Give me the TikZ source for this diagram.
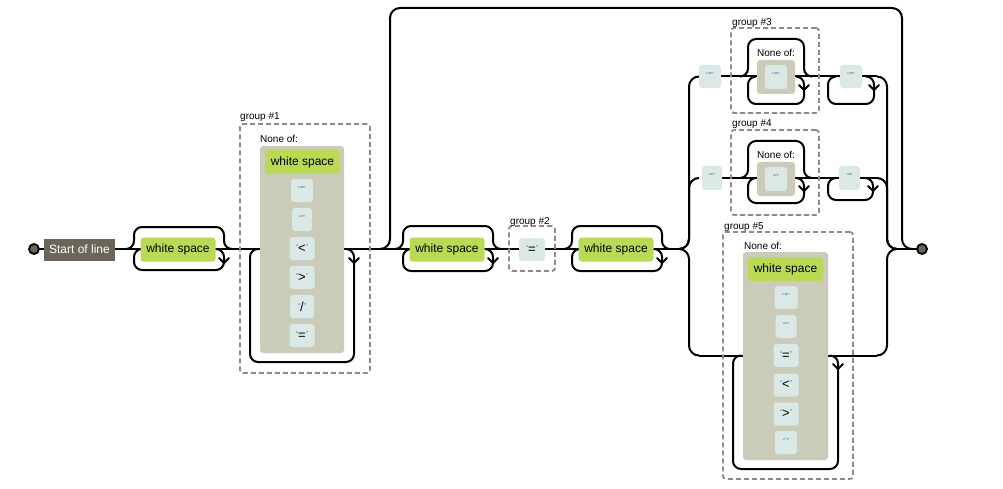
\documentclass[tikz,border=0pt]{standalone}
\usepackage{fontspec}
\setmainfont{Liberation Sans}
\newfontfamily\rawfont{Liberation Sans}[Ligatures=TeXOff]
\usetikzlibrary{backgrounds}
\definecolor{anchorc}{HTML}{6B6659}
\definecolor{escc}{HTML}{BADA55}
\definecolor{litc}{HTML}{DAE9E5}
\definecolor{setc}{HTML}{CBCBBA}
\definecolor{grpc}{HTML}{908C83}
\definecolor{quotec}{HTML}{5A6E96}
\newcommand\qmark[1]{{\color{quotec}\fontsize{7}{7}\selectfont\raisebox{3pt}{#1}}}
\newcommand\litbig[1]{\qmark{“}{\rawfont\fontsize{13}{13}\selectfont #1}\qmark{”}}
\newcommand\litsmall[1]{\qmark{“}\raisebox{3pt}{\color{quotec!70!black}\rawfont\fontsize{7}{7}\selectfont #1}\qmark{”}}
\newcommand\chev[2]{\draw[rail,line cap=round] (#1-5,#2-5) -- (#1,#2) -- (#1+5,#2-5);}
% skip above + loop below: xl, xr, y, top, bottom, arrow y
\newcommand\skiploop[6]{%
  \draw[rail,rounded corners=8pt] (#1-8,#3) -- (#1,#3) -- (#1,#4) -- (#2,#4) -- (#2,#3) -- (#2+8,#3);
  \draw[rail,rounded corners=8pt] (#2-8,#3) -- (#2,#3) -- (#2,#5) -- (#1,#5) -- (#1,#3) -- (#1+8,#3);
  \chev{#2}{#6}}
% loop below only: xl, xr, y, bottom, arrow y
\newcommand\loopback[5]{%
  \draw[rail,rounded corners=8pt] (#2-8,#3) -- (#2,#3) -- (#2,#4) -- (#1,#4) -- (#1,#3) -- (#1+8,#3);
  \chev{#2}{#5}}
\tikzset{
  rail/.style={line width=2pt,line join=round},
  anchorbox/.style={fill=anchorc,text=white,font=\fontsize{12}{12}\selectfont,inner sep=0pt,minimum width=71pt,minimum height=22pt},
  escbox/.style={fill=escc,rounded corners=3pt,font=\fontsize{12}{12}\selectfont,inner sep=0pt,minimum width=75pt,minimum height=24pt},
  litbox/.style={fill=litc,rounded corners=3pt,inner sep=0pt,minimum height=23pt},
  setbox/.style={fill=setc,rounded corners=3pt,inner sep=0pt},
  grpbox/.style={draw=grpc,line width=1.8pt,dash pattern=on 5pt off 3pt,rounded corners=3pt,inner sep=0pt},
  lbl/.style={font=\fontsize{10}{10}\selectfont,inner sep=0pt,anchor=base west},
  endpt/.style={circle,fill=anchorc,draw=black,line width=1.8pt,minimum size=10pt,inner sep=0pt},
}
\begin{document}
\begin{tikzpicture}[x=1pt,y=-1pt]
\useasboundingbox (0,0) rectangle (1003,489);

% ---------- nodes ----------
\node[endpt] (s) at (34,249) {};
\node[anchorbox] (sol) at (79.5,249.5) {Start of line};
\node[escbox] (ws1) at (178,249.5) {white space};

% group 1
\node[grpbox,minimum width=130pt,minimum height=249pt] (g1) at (305,248.5) {};
\node[lbl] (g1l) at (240,120) {group \#1};
\node[lbl] (g1n) at (260,143) {None of:};
\node[setbox,minimum width=84pt,minimum height=207pt] (cs1) at (302,249.5) {};
\node[escbox] (g1ws) at (302.5,162) {white space};
\node[litbox,minimum width=22pt] (g1a) at (302,190.5) {\litsmall{"}};
\node[litbox,minimum width=20pt] (g1b) at (302,219.5) {\litsmall{'}};
\node[litbox,minimum width=25pt] (g1c) at (302,248.5) {\litbig{<}};
\node[litbox,minimum width=25pt] (g1d) at (302,277.5) {\litbig{>}};
\node[litbox,minimum width=24pt] (g1e) at (302,306.5) {\litbig{/}};
\node[litbox,minimum width=25pt] (g1f) at (302,335.5) {\litbig{=}};

\node[escbox] (ws2) at (447,249.5) {white space};

% group 2
\node[grpbox,minimum width=46pt,minimum height=45pt] (g2) at (532,248.5) {};
\node[lbl] (g2l) at (510,224) {group \#2};
\node[litbox,minimum width=26pt] (g2a) at (532,249.5) {\litbig{=}};

\node[escbox] (ws3) at (616,249.5) {white space};

% row 1 / group 3
\node[litbox,minimum width=22pt] (r1a) at (710,76.5) {\litsmall{"}};
\node[grpbox,minimum width=88pt,minimum height=85pt] (g3) at (775,70.5) {};
\node[lbl] (g3l) at (732,26) {group \#3};
\node[lbl] (g3n) at (757,57) {None of:};
\node[setbox,minimum width=38pt,minimum height=34pt] (cs3) at (776,77) {};
\node[litbox,minimum width=22pt,minimum height=24pt] (g3a) at (776,77) {\litsmall{"}};
\node[litbox,minimum width=22pt] (r1b) at (851,76.5) {\litsmall{"}};

% row 2 / group 4
\node[litbox,minimum width=20pt,minimum height=24pt] (r2a) at (712,178) {\litsmall{'}};
\node[grpbox,minimum width=88pt,minimum height=85pt] (g4) at (775,172.5) {};
\node[lbl] (g4l) at (732,127) {group \#4};
\node[lbl] (g4n) at (757,159) {None of:};
\node[setbox,minimum width=38pt,minimum height=34pt] (cs4) at (776,179) {};
\node[litbox,minimum width=22pt,minimum height=24pt] (g4a) at (776,179) {\litsmall{'}};
\node[litbox,minimum width=21pt,minimum height=24pt] (r2b) at (849.5,178) {\litsmall{'}};

% row 3 / group 5
\node[grpbox,minimum width=130pt,minimum height=247pt] (g5) at (788,355.5) {};
\node[lbl] (g5l) at (724,229) {group \#5};
\node[lbl] (g5n) at (744,249) {None of:};
\node[setbox,minimum width=85pt,minimum height=208pt] (cs5) at (785.5,356) {};
\node[escbox] (g5ws) at (785.5,269) {white space};
\node[litbox,minimum width=23pt] (g5a) at (786,297.5) {\litsmall{"}};
\node[litbox,minimum width=21pt] (g5b) at (786,326.5) {\litsmall{'}};
\node[litbox,minimum width=25pt] (g5c) at (786,355.5) {\litbig{=}};
\node[litbox,minimum width=25pt] (g5d) at (786,385) {\litbig{<}};
\node[litbox,minimum width=25pt] (g5e) at (786,414) {\litbig{>}};
\node[litbox,minimum width=22pt] (g5f) at (786,442.5) {\litsmall{`}};

\node[endpt] (e) at (922,249) {};

% ---------- rails ----------
\begin{scope}[on background layer]
  \fill[white] (0,0) rectangle (1003,489);
  \draw[rail] (s.center) -- (679,249);
  \draw[rail] (897,249) -- (e.center);
  % white space 1
  \skiploop{134}{224}{249}{227}{270}{263}
  % group 1 loop
  \loopback{250}{354}{249}{362}{263}
  % big optional skip
  \draw[rail,rounded corners=10pt] (380,249) -- (390,249) -- (390,8) -- (902,8) -- (902,249) -- (912,249);
  % white space 2 and 3
  \skiploop{403}{493}{249}{226}{271}{263}
  \skiploop{572}{662}{249}{226}{271}{263}
  % alternation
  \draw[rail,rounded corners=10pt] (679,249) -- (689,249) -- (689,76.5) -- (699,76.5);
  \draw[rail,rounded corners=10pt] (679,249) -- (689,249) -- (689,178) -- (699,178);
  \draw[rail,rounded corners=10pt] (679,249) -- (689,249) -- (689,355.5) -- (699,355.5);
  \draw[rail,rounded corners=10pt] (877,76.5) -- (887,76.5) -- (887,249) -- (897,249);
  \draw[rail,rounded corners=10pt] (877,178) -- (887,178) -- (887,249) -- (897,249);
  \draw[rail,rounded corners=10pt] (877,355.5) -- (887,355.5) -- (887,249) -- (897,249);
  \draw[rail] (r1a.west) -- (877,76.5);
  \draw[rail] (r2a.west) -- (877,178);
  \draw[rail] (699,355.5) -- (877,355.5);
  % row 1
  \skiploop{748}{804}{76.5}{39}{104}{90}
  \loopback{828}{874}{76.5}{104}{90}
  % row 2
  \skiploop{748}{804}{178}{141}{203}{191}
  \loopback{828}{873}{178}{200}{191}
  % row 3
  \loopback{733}{838}{355.5}{469}{369}
\end{scope}
\end{tikzpicture}
\end{document}
